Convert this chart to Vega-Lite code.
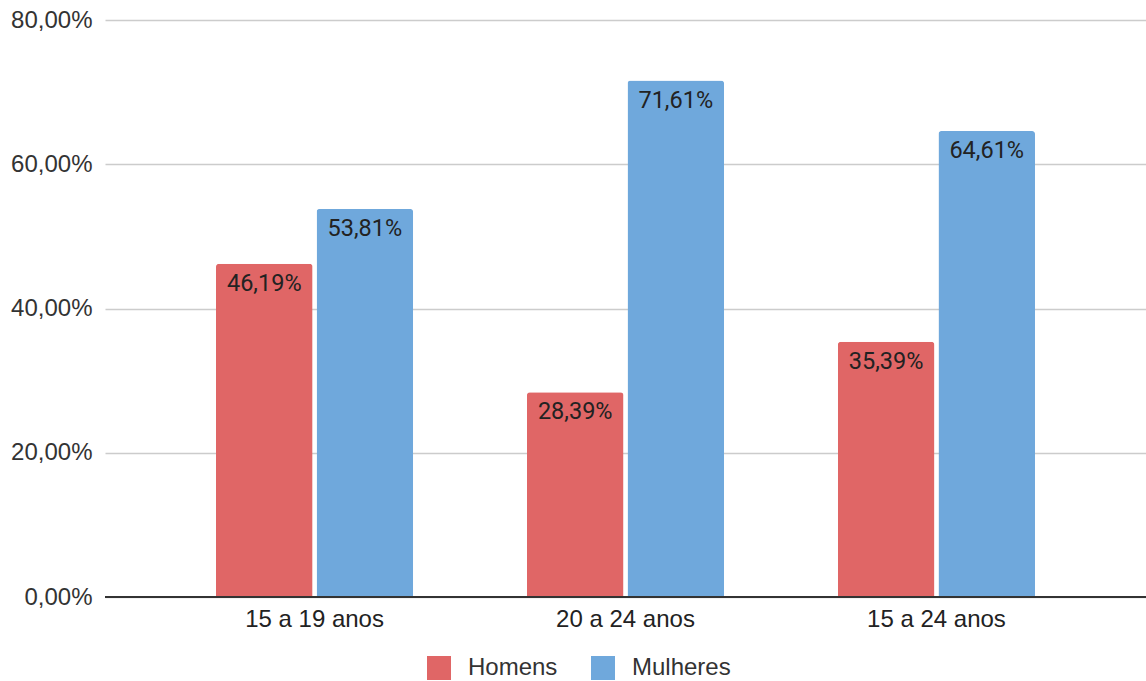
{
  "$schema": "https://vega.github.io/schema/vega-lite/v6.json",
  "width": 1041,
  "height": 577,
  "autosize": {"type": "none"},
  "padding": {"left": 105, "top": 20, "right": 0, "bottom": 84},
  "config": {
    "locale": {"number": {"decimal": ",", "thousands": ".", "grouping": [3], "currency": ["R$", ""]}},
    "view": {"stroke": null},
    "font": "Liberation Sans"
  },
  "data": {
    "values": [
      {"grupo": "15 a 19 anos", "sexo": "Homens", "valor": 0.4619},
      {"grupo": "15 a 19 anos", "sexo": "Mulheres", "valor": 0.5381},
      {"grupo": "20 a 24 anos", "sexo": "Homens", "valor": 0.2839},
      {"grupo": "20 a 24 anos", "sexo": "Mulheres", "valor": 0.7161},
      {"grupo": "15 a 24 anos", "sexo": "Homens", "valor": 0.3539},
      {"grupo": "15 a 24 anos", "sexo": "Mulheres", "valor": 0.6461}
    ]
  },
  "encoding": {
    "x": {
      "field": "grupo", "type": "nominal", "sort": null,
      "scale": {"paddingInner": 0.366, "paddingOuter": 0.357},
      "axis": {"title": null, "labelAngle": 0, "labelFontSize": 24, "labelColor": "#222222", "labelPadding": 10, "ticks": false, "domain": false, "labelFont": "Liberation Sans"}
    },
    "xOffset": {"field": "sexo", "type": "nominal", "scale": {"paddingInner": 0.04, "paddingOuter": 0}},
    "y": {
      "field": "valor", "type": "quantitative",
      "scale": {"domain": [0, 0.8]},
      "axis": {"title": null, "values": [0, 0.2, 0.4, 0.6, 0.8], "format": ".2%", "labelFontSize": 24, "labelColor": "#333333", "labelPadding": 13, "ticks": false, "domain": false, "gridColor": "#cccccc", "gridWidth": 1.5, "labelFont": "Liberation Sans"}
    }
  },
  "layer": [
    {
      "mark": {"type": "bar", "cornerRadiusTopLeft": 3, "cornerRadiusTopRight": 3},
      "encoding": {
        "color": {
          "field": "sexo", "type": "nominal",
          "scale": {"domain": ["Homens", "Mulheres"], "range": ["#e06666", "#6fa8dc"]},
          "legend": {
            "title": null, "orient": "none", "direction": "horizontal",
            "legendX": 322, "legendY": 636,
            "symbolType": "square", "symbolSize": 576, "symbolStrokeWidth": 0,
            "labelFontSize": 24, "labelColor": "#333333", "labelFont": "Liberation Sans",
            "labelOffset": 17, "columnPadding": 33
          }
        }
      }
    },
    {
      "mark": {"type": "text", "baseline": "middle", "dy": 20, "fontSize": 23.5, "color": "#222222", "font": "Roboto"},
      "encoding": {
        "text": {"field": "valor", "type": "quantitative", "format": ".2%"}
      }
    },
    {
      "data": {"values": [{"z": 0}]},
      "mark": {"type": "rule", "color": "#333333", "strokeWidth": 2},
      "encoding": {"y": {"field": "z", "type": "quantitative"}, "x": null, "xOffset": null}
    }
  ]
}
